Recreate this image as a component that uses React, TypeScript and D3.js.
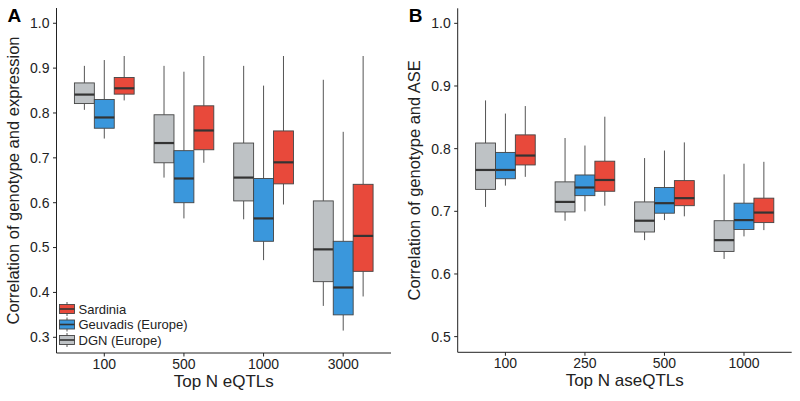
import React from "react";
import * as d3 from "d3";

// each stat: [lower whisker, q1, median, q3, upper whisker]
type Stat = [number, number, number, number, number];

const eqtlCategories = ["100", "500", "1000", "3000"];
const aseCategories = ["100", "250", "500", "1000"];

const seriesNames = ["DGN (Europe)", "Geuvadis (Europe)", "Sardinia"];
const seriesColors = ["#BEC2C5", "#3A97DC", "#E8493B"];

// panel A: correlation of genotype and expression
const dgnExpr: Stat[] = [
  [0.807, 0.821, 0.841, 0.867, 0.905],
  [0.656, 0.689, 0.733, 0.796, 0.905],
  [0.563, 0.604, 0.656, 0.733, 0.905],
  [0.37, 0.424, 0.496, 0.604, 0.874],
];
const geuvadisExpr: Stat[] = [
  [0.743, 0.766, 0.79, 0.83, 0.918],
  [0.565, 0.6, 0.654, 0.716, 0.892],
  [0.472, 0.514, 0.565, 0.654, 0.861],
  [0.315, 0.35, 0.411, 0.514, 0.758],
];
const sardiniaExpr: Stat[] = [
  [0.828, 0.842, 0.855, 0.879, 0.927],
  [0.689, 0.718, 0.761, 0.816, 0.927],
  [0.596, 0.642, 0.69, 0.76, 0.927],
  [0.391, 0.447, 0.526, 0.641, 0.927],
];

// panel B: correlation of genotype and ASE
const dgnAse: Stat[] = [
  [0.707, 0.735, 0.766, 0.809, 0.877],
  [0.685, 0.699, 0.715, 0.747, 0.817],
  [0.654, 0.667, 0.685, 0.715, 0.785],
  [0.624, 0.636, 0.654, 0.685, 0.759],
];
const geuvadisAse: Stat[] = [
  [0.741, 0.752, 0.766, 0.794, 0.856],
  [0.7, 0.725, 0.738, 0.758, 0.805],
  [0.686, 0.697, 0.713, 0.738, 0.797],
  [0.66, 0.671, 0.686, 0.713, 0.776],
];
const sardiniaAse: Stat[] = [
  [0.755, 0.774, 0.789, 0.822, 0.868],
  [0.709, 0.732, 0.75, 0.78, 0.851],
  [0.692, 0.709, 0.721, 0.749, 0.81],
  [0.67, 0.682, 0.698, 0.721, 0.779],
];

const exprTicks = [0.3, 0.4, 0.5, 0.6, 0.7, 0.8, 0.9, 1.0];
const aseTicks = [0.5, 0.6, 0.7, 0.8, 0.9, 1.0];

const font = "'Liberation Sans', Arial, Helvetica, sans-serif";
const textCol = "#222";

type PanelProps = {
  letter: string;
  categories: string[];
  series: Stat[][];
  ticks: number[];
  yDomain: [number, number];
  x0: number;
  x1: number;
  yTop: number;
  yBottom: number;
  yTitle: string;
  xTitle: string;
  legend?: boolean;
};

const Panel = ({
  letter,
  categories,
  series,
  ticks,
  yDomain,
  x0,
  x1,
  yTop,
  yBottom,
  yTitle,
  xTitle,
  legend,
}: PanelProps) => {
  const x = d3.scalePoint<string>().domain(categories).range([x0, x1]).padding(0.6);
  const y = d3.scaleLinear().domain(yDomain).range([yBottom, yTop]);
  const boxW = (x.step() * 0.75) / series.length;
  const midY = (yTop + yBottom) / 2;
  const midX = (x0 + x1) / 2;

  return (
    <g fontFamily={font}>
      <text x={x0 - 49} y={yTop + 14} fontSize={19} fontWeight="bold" fill="#000">
        {letter}
      </text>
      {/* boxes */}
      {series.map((stats, si) =>
        stats.map((s, ci) => {
          const cx = (x(categories[ci]) as number) + (si - (series.length - 1) / 2) * boxW;
          return (
            <g key={`${si}-${ci}`}>
              <line x1={cx} x2={cx} y1={y(s[4])} y2={y(s[3])} stroke="#555" strokeWidth={1} />
              <line x1={cx} x2={cx} y1={y(s[1])} y2={y(s[0])} stroke="#555" strokeWidth={1} />
              <rect
                x={cx - boxW / 2}
                y={y(s[3])}
                width={boxW}
                height={y(s[1]) - y(s[3])}
                fill={seriesColors[si]}
                stroke="#444"
                strokeWidth={0.9}
              />
              <line
                x1={cx - boxW / 2}
                x2={cx + boxW / 2}
                y1={y(s[2])}
                y2={y(s[2])}
                stroke="#333"
                strokeWidth={2.2}
              />
            </g>
          );
        })
      )}
      {/* y axis */}
      <line x1={x0} x2={x0} y1={yTop} y2={yBottom} stroke="#222" strokeWidth={1} />
      {ticks.map((t) => (
        <g key={t}>
          <line x1={x0 - 3.5} x2={x0} y1={y(t)} y2={y(t)} stroke="#222" />
          <text x={x0 - 7} y={y(t)} dy="0.35em" textAnchor="end" fontSize={14} fill={textCol}>
            {t.toFixed(1)}
          </text>
        </g>
      ))}
      {/* x axis */}
      <line x1={x0} x2={x1} y1={yBottom} y2={yBottom} stroke="#222" strokeWidth={1} />
      {categories.map((c) => (
        <g key={c}>
          <line x1={x(c)} x2={x(c)} y1={yBottom} y2={yBottom + 3.5} stroke="#222" />
          <text x={x(c)} y={yBottom + 15.5} textAnchor="middle" fontSize={14} fill={textCol}>
            {c}
          </text>
        </g>
      ))}
      <text x={midX} y={yBottom + 34} textAnchor="middle" fontSize={17} fill={textCol}>
        {xTitle}
      </text>
      <text
        transform={`translate(${x0 - 38},${midY}) rotate(-90)`}
        textAnchor="middle"
        fontSize={16.5}
        fill={textCol}
      >
        {yTitle}
      </text>
      {legend && (
        <g transform={`translate(${x0 + 3},${yBottom - 44})`}>
          {[2, 1, 0].map((si, i) => (
            <g key={si} transform={`translate(0,${i * 15.5})`}>
              <line x1={7.5} x2={7.5} y1={-7} y2={7} stroke="#555" />
              <rect x={0} y={-4.5} width={15} height={9} fill={seriesColors[si]} stroke="#444" strokeWidth={0.9} />
              <line x1={0} x2={15} y1={0} y2={0} stroke="#333" strokeWidth={1.6} />
              <text x={19} y={0} dy="0.36em" fontSize={13} fill={textCol}>
                {seriesNames[si]}
              </text>
            </g>
          ))}
        </g>
      )}
    </g>
  );
};

export default function App() {
  return (
    <svg
      width={800}
      height={401}
      viewBox="0 0 800 401"
      style={{ position: "absolute", left: 0, top: 0, background: "#fff" }}
    >
      <rect width={800} height={401} fill="#fff" />
      <Panel
        letter="A"
        categories={eqtlCategories}
        series={[dgnExpr, geuvadisExpr, sardiniaExpr]}
        ticks={exprTicks}
        yDomain={[0.265, 1.034]}
        x0={56.5}
        x1={391}
        yTop={8}
        yBottom={353}
        yTitle="Correlation of genotype and expression"
        xTitle="Top N eQTLs"
        legend
      />
      <Panel
        letter="B"
        categories={aseCategories}
        series={[dgnAse, geuvadisAse, sardiniaAse]}
        ticks={aseTicks}
        yDomain={[0.475, 1.024]}
        x0={457.7}
        x1={791.7}
        yTop={8.3}
        yBottom={352.3}
        yTitle="Correlation of genotype and ASE"
        xTitle="Top N aseQTLs"
      />
    </svg>
  );
}
